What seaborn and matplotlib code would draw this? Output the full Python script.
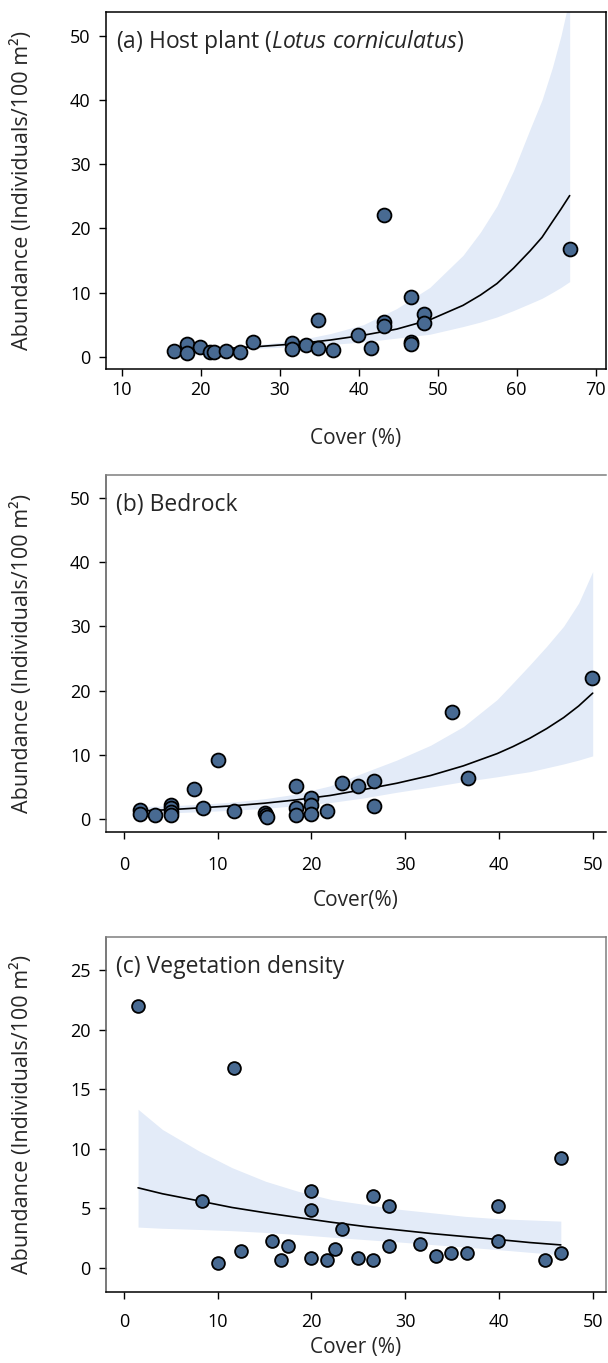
import matplotlib
matplotlib.use("Agg")
import matplotlib.pyplot as plt
import seaborn as sns
import pandas as pd

# pontos observados (cobertura %, abundancia)
a_cover = [16.6, 18.2, 18.2, 19.95, 21.2, 21.7, 23.2, 25.0, 26.6, 31.6, 31.6, 33.3, 34.9,
           34.9, 36.7, 39.95, 41.6, 43.2, 43.2, 43.2, 46.6, 46.6, 46.6, 48.2, 48.2, 66.7]
a_abund = [0.89, 1.93, 0.63, 1.46, 0.68, 0.68, 0.94, 0.68, 2.34, 2.13, 1.25, 1.77, 5.72,
           1.30, 1.09, 3.33, 1.30, 22.0, 5.35, 4.83, 9.3, 2.34, 1.93, 6.6, 5.30, 16.8]

b_cover = [1.7, 1.7, 3.3, 5.0, 5.0, 5.0, 5.0, 7.5, 8.4, 10.0, 11.7, 15.0, 15.1, 15.3,
           18.3, 18.3, 18.3, 20.0, 20.0, 20.0, 21.7, 23.3, 25.0, 26.7, 26.7, 36.7, 35.0, 49.9]
b_abund = [1.45, 0.82, 0.62, 2.22, 1.71, 1.19, 0.62, 4.76, 1.81, 9.17, 1.24, 0.98, 0.62, 0.41,
           5.23, 1.81, 0.67, 3.26, 2.22, 0.82, 1.24, 5.6, 5.23, 6.0, 2.02, 6.38, 16.7, 21.9]

c_cover = [1.5, 11.7, 46.6, 8.3, 20.0, 20.0, 26.6, 28.3, 39.95, 23.3, 15.8, 17.5, 12.5, 10.0,
           16.7, 20.0, 21.7, 22.5, 25.0, 26.6, 28.3, 31.6, 33.3, 34.9, 36.6, 39.95, 44.9, 46.6]
c_abund = [22.0, 16.8, 9.2, 5.6, 6.4, 4.8, 6.0, 5.2, 5.2, 3.2, 2.2, 1.8, 1.4, 0.4,
           0.67, 0.8, 0.67, 1.6, 0.8, 0.6, 1.8, 2.0, 1.0, 1.2, 1.2, 2.2, 0.6, 1.2]

# curvas ajustadas e intervalo de confianca
a_fit_x = [17, 22, 27, 32, 36.4, 40.6, 44.8, 49.0, 53.2, 55.4, 57.5, 59.6, 61.7, 63.2, 64.5, 65.6, 66.7]
a_fit = [0.94, 1.2, 1.56, 2.0, 2.6, 3.35, 4.3, 5.75, 8.0, 9.6, 11.4, 13.8, 16.5, 18.6, 21.0, 23.0, 25.1]
a_upper = [1.05, 1.4, 1.85, 2.5, 3.6, 5.0, 7.5, 10.8, 15.8, 19.4, 23.5, 29.0, 35.5, 40.0, 45.0, 50.0, 56.0]
a_lower = [0.85, 1.05, 1.3, 1.6, 1.9, 2.3, 2.9, 3.5, 4.7, 5.4, 6.2, 7.2, 8.3, 9.1, 10.0, 10.8, 11.7]

b_fit_x = [1.7, 5, 8.4, 11.7, 15, 18.3, 22, 25.5, 29.1, 32.7, 36.2, 39.8, 41.5, 43.3, 45.1, 46.9, 48.5, 50]
b_fit = [1.3, 1.5, 1.8, 2.1, 2.5, 3.0, 3.7, 4.6, 5.6, 6.8, 8.3, 10.2, 11.3, 12.6, 14.1, 15.8, 17.6, 19.6]
b_upper = [1.95, 2.1, 2.35, 2.7, 3.2, 3.9, 5.2, 7.2, 9.2, 11.5, 14.4, 18.6, 21.2, 24.0, 26.9, 30.0, 33.6, 38.5]
b_lower = [0.85, 1.0, 1.2, 1.4, 1.7, 2.1, 2.6, 3.3, 4.2, 5.0, 5.85, 6.6, 7.0, 7.4, 8.0, 8.6, 9.2, 9.85]

c_fit_x = [1.5, 4.1, 8.0, 11.5, 15.1, 18.6, 22.2, 25.7, 29.3, 32.9, 36.4, 40.0, 43.3, 46.6]
c_fit = [6.7, 6.2, 5.6, 5.05, 4.6, 4.2, 3.8, 3.45, 3.15, 2.85, 2.6, 2.35, 2.1, 1.9]
c_upper = [13.3, 11.6, 9.8, 8.4, 7.25, 6.4, 5.7, 5.3, 4.9, 4.6, 4.3, 4.1, 4.0, 3.9]
c_lower = [3.4, 3.3, 3.2, 3.1, 2.95, 2.77, 2.55, 2.35, 2.15, 1.93, 1.72, 1.5, 1.28, 1.07]

a_xticks = [10, 20, 30, 40, 50, 60, 70]
b_xticks = [0, 10, 20, 30, 40, 50]
c_xticks = [0, 10, 20, 30, 40, 50]
a_yticks = [0, 10, 20, 30, 40, 50]
b_yticks = [0, 10, 20, 30, 40, 50]
c_yticks = [0, 5, 10, 15, 20, 25]

titulos = ['(a) Host plant ($\\mathit{Lotus\\ corniculatus}$)', '(b) Bedrock', '(c) Vegetation density']
xlabels = ['Cover (%)', 'Cover(%)', 'Cover (%)']
ylabel = 'Abundance (Individuals/100 m\u00b2)'

sns.set_theme(style='ticks')
plt.rcParams['font.family'] = ['Open Sans', 'DejaVu Sans']
plt.rcParams['mathtext.fontset'] = 'custom'
plt.rcParams['mathtext.rm'] = 'Open Sans'
plt.rcParams['mathtext.it'] = 'Open Sans:italic'

COR_PONTO = '#486a92'
COR_BANDA = '#e3ebf8'

fig = plt.figure(figsize=(6.08, 13.63), dpi=100)
H = 1363.0
W = 608.0

# (left, top, right, bottom) em pixels
caixas = [(106, 12, 606, 369.3), (106, 475, 606, 831.7), (106, 936.7, 606, 1292.3)]
limites_x = [(8.0, 71.3), (-1.92, 51.42), (-1.92, 51.42)]
limites_y = [(-1.96, 53.7), (-1.93, 53.5), (-2.08, 27.8)]
pads_x = [3.5, 12.5, 10]
pos_xlabel = [-0.165, -0.164, -0.127]

dados = [
    (a_cover, a_abund, a_fit_x, a_fit, a_upper, a_lower, a_xticks, a_yticks),
    (b_cover, b_abund, b_fit_x, b_fit, b_upper, b_lower, b_xticks, b_yticks),
    (c_cover, c_abund, c_fit_x, c_fit, c_upper, c_lower, c_xticks, c_yticks),
]

for i, (cx, cy, fx, fy, up, lo, xt, yt) in enumerate(dados):
    l, t, r, b = caixas[i]
    ax = fig.add_axes([l / W, 1 - b / H, (r - l) / W, (b - t) / H])

    ax.fill_between(fx, lo, up, color=COR_BANDA, linewidth=0, zorder=1)
    sns.lineplot(x=fx, y=fy, ax=ax, color='black', linewidth=1.2,
                 estimator=None, sort=False, zorder=2)
    df = pd.DataFrame({'cover': cx, 'abund': cy})
    sns.scatterplot(data=df, x='cover', y='abund', ax=ax, s=100 if i < 2 else 85,
                    color=COR_PONTO, edgecolor='black', linewidth=1.3, zorder=3)

    ax.set_xlim(*limites_x[i])
    ax.set_ylim(*limites_y[i])
    ax.set_xticks(xt)
    ax.set_yticks(yt)
    ax.tick_params(axis='both', direction='out', length=5, width=1, labelsize=13,
                   color='black', labelcolor='black')
    ax.tick_params(axis='x', pad=pads_x[i])
    ax.tick_params(axis='y', pad=6)

    for lado in ['left', 'bottom', 'top', 'right']:
        ax.spines[lado].set_linewidth(1.1)
        ax.spines[lado].set_color('black')
    if i > 0:
        ax.spines['top'].set_color('#7f7f7f')
        ax.spines['right'].set_color('#7f7f7f')
        ax.spines['left'].set_color('#555555')
    if i == 1:
        ax.spines['right'].set_visible(False)

    ax.set_xlabel(xlabels[i], fontsize=15)
    ax.set_ylabel(ylabel, fontsize=15.5)
    ax.xaxis.set_label_coords(0.5, pos_xlabel[i])
    ax.yaxis.set_label_coords(-0.146, 0.5)
    ax.text(0.02, 0.915, titulos[i], transform=ax.transAxes, fontsize=16.5,
            va='center', ha='left')

fig.savefig('out.png', dpi=100, facecolor='white')
